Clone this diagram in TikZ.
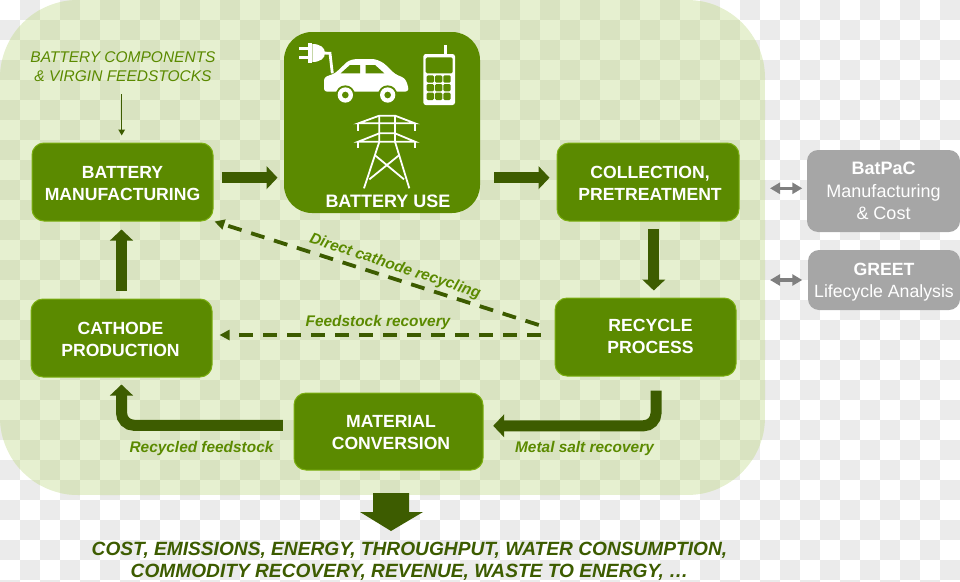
\documentclass[tikz,border=0pt]{standalone}
\usepackage{fontspec}
\setmainfont{Liberation Sans}
\usetikzlibrary{arrows.meta}
\definecolor{checkgray}{HTML}{EBEBEB}
\definecolor{panellight}{HTML}{E6F0D0}
\definecolor{paneldark}{HTML}{D9E3C1}
\definecolor{boxgreen}{HTML}{5B8A00}
\definecolor{boxedge}{HTML}{7CAF12}
\definecolor{arrowgreen}{HTML}{3D5C00}
\definecolor{labelgreen}{HTML}{5B8A00}
\definecolor{boxgray}{HTML}{A6A6A6}
\definecolor{arrowgray}{HTML}{7F7F7F}
\newcommand{\checkerrows}[1]{%
  \foreach \rowy in {10,50,...,570} \draw[#1,line width=20pt,dash pattern=on 20pt off 20pt,dash phase=20pt] (0,\rowy)--(960,\rowy);
  \foreach \rowy in {30,70,...,590} \draw[#1,line width=20pt,dash pattern=on 20pt off 20pt] (0,\rowy)--(960,\rowy);
}
% invisible struts that nudge a centred block of text: taller first line moves it down, deeper last line moves it up
\newcommand{\tallstrut}[1]{\rule{0pt}{#1pt}}
\newcommand{\deepstrut}[1]{\rule[-#1pt]{0pt}{#1pt}}
\tikzset{
  greenbox/.style={draw=boxedge,line width=1pt,fill=boxgreen,rounded corners=12pt,inner sep=0pt,text=white,align=center,
    font=\fontsize{17.6}{22}\selectfont\bfseries},
  graybox/.style={fill=boxgray,rounded corners=11pt,inner sep=0pt,text=white,align=center,
    font=\fontsize{18}{22.5}\selectfont},
  blockarrow/.style={draw=arrowgreen,line width=11pt,-{Triangle[length=11pt,width=22.5pt]}},
  dasharrow/.style={draw=arrowgreen,line width=3.8pt,dash pattern=on 14pt off 10pt,-{Triangle[length=10pt,width=10pt]}},
  thinarrow/.style={draw=arrowgreen,line width=1.4pt,-{Triangle[length=6pt,width=6.5pt]}},
  grayarrow/.style={draw=arrowgray,line width=3.2pt,{Triangle[length=10pt,width=11pt]}-{Triangle[length=10pt,width=11pt]}},
  steplabel/.style={text=labelgreen,inner sep=0pt,font=\fontsize{15.4}{18}\selectfont\bfseries\itshape},
  iconline/.style={draw=white,line width=1.8pt},
}
\begin{document}
\begin{tikzpicture}[x=1pt,y=-1pt]
\useasboundingbox (0,0) rectangle (960,581);
\checkerrows{checkgray}
\begin{scope}
  \clip[rounded corners=78pt] (0,0) rectangle (765,495);
  \fill[panellight] (0,0) rectangle (765,495);
  \checkerrows{paneldark}
\end{scope}

% boxes
\node[greenbox,minimum width=181pt,minimum height=78pt] (bm) at (122.5,182) {\tallstrut{15}BATTERY\\MANUFACTURING};
\node[fill=boxgreen,rounded corners=28pt,inner sep=0pt,minimum width=196pt,minimum height=181pt] (use) at (382,122.5) {};
\node[text=white,inner sep=0pt,font=\fontsize{18}{22}\selectfont\bfseries] (uselabel) at (388,201.5) {BATTERY USE};
\node[greenbox,minimum width=182pt,minimum height=78pt] (coll) at (648,182) {\hspace*{4pt}\tallstrut{15}COLLECTION,\\\hspace*{4pt}PRETREATMENT};
\node[greenbox,minimum width=181pt,minimum height=78pt] (rec) at (645.5,337) {\hspace*{10pt}RECYCLE\\\hspace*{10pt}PROCESS\deepstrut{2}};
\node[greenbox,minimum width=181pt,minimum height=78pt] (cath) at (121.5,338) {\tallstrut{15}CATHODE\kern2pt\\PRODUCTION\kern2pt};
\node[greenbox,minimum width=189pt,minimum height=77pt] (mat) at (388.5,431.5) {\hspace*{5pt}\tallstrut{14.5}MATERIAL\\\hspace*{5pt}CONVERSION};
\node[graybox,minimum width=153pt,minimum height=82pt] (batpac) at (883.5,191) {\textbf{BatPaC}\\Manufacturing\\\&\ Cost};
\node[graybox,minimum width=152pt,minimum height=60pt,font=\fontsize{17.7}{22}\selectfont] (greet) at (884,280) {\tallstrut{17}\textbf{GREET}\\Lifecycle Analysis};

% labels
\node[text=labelgreen,align=center,inner sep=0pt,font=\fontsize{15.5}{18.5}\selectfont\itshape] (feed) at (123,66.5) {BATTERY COMPONENTS\\\&\ VIRGIN FEEDSTOCKS};
\node[steplabel,rotate=-18.2] (direct) at (395,266.5) {Direct cathode recycling};
\node[steplabel] (fs) at (378,323) {Feedstock recovery};
\node[steplabel] (rf) at (201.5,448.5) {Recycled feedstock};
\node[steplabel] (ms) at (584.5,448.5) {Metal salt recovery};
\node[text=arrowgreen,align=center,inner sep=0pt,font=\fontsize{19.15}{22}\selectfont\bfseries\itshape] (out) at (409.5,561) {COST, EMISSIONS, ENERGY, THROUGHPUT, WATER CONSUMPTION,\\COMMODITY RECOVERY, REVENUE, WASTE TO ENERGY, \ldots};

% connectors
\coordinate (feedstart) at (121.7,94);
\coordinate (feedend) at (121.7,135.5);
\draw[thinarrow] (feedstart) -- (feedend);
\draw[blockarrow] ([xshift=8.3pt]bm.east |- 0,177.7) -- ([xshift=-6.3pt]use.west |- 0,177.7);
\draw[blockarrow] ([xshift=14pt]use.east |- 0,177.7) -- ([xshift=-7pt]coll.west |- 0,177.7);
\draw[blockarrow] ([yshift=-7.3pt]653.8,0 |- coll.south) -- ([yshift=7pt]653.8,0 |- rec.north);
\draw[blockarrow,rounded corners=12.5pt] ([yshift=-14pt]656,0 |- rec.south) |- ([xshift=9.7pt]mat.east |- 0,425.8);
\draw[blockarrow,rounded corners=12.5pt] ([xshift=-10.7pt]mat.west |- 0,425.3) -| ([yshift=-7pt]cath.south);
\draw[blockarrow] ([yshift=8pt]cath.north) -- ([yshift=-8pt]cath.north |- bm.south);
\draw[dasharrow] ([xshift=-15.7pt]rec.west |- 0,325) -- ([xshift=1pt]bm.south east);
\draw[dasharrow] ([xshift=-14pt]rec.west |- 0,335) -- ([xshift=7pt]cath.east |- 0,335);
\draw[grayarrow] (770,188.3) -- ([xshift=-4.5pt]batpac.west |- 0,188.3);
\draw[grayarrow] (770,280) -- ([xshift=-5.5pt]greet.west |- 0,280);
\fill[arrowgreen] (373,493) -- (409,493) -- (409,512) -- (423,512) -- (391,531) -- (360,512) -- (373,512) -- cycle;

% icons in zoom coordinates
\begin{scope}[shift={(280,20)},x=0.33333pt,y=-0.33333pt]
  % plug
  \fill[white] (57,82) rectangle (90,90);
  \fill[white] (57,108) rectangle (90,116);
  \fill[white] (85,68) rectangle (97,130);
  \fill[white] (97,72) .. controls (122,72) and (135,84) .. (135,99) .. controls (135,114) and (122,126) .. (97,126) -- cycle;
  \draw[white,line width=2.8pt] (130,99) -- (150,100) -- (157,160);
  % car
  \fill[white,rounded corners=3pt] (132,215) -- (132,172) -- (165,160) -- (205,122) -- (225,117) -- (285,117) -- (310,128) -- (345,162) -- (375,175) -- (385,200) -- (385,215) -- cycle;
  \fill[boxgreen] (182,160) -- (210,135) -- (240,135) -- (240,160) -- cycle;
  \fill[boxgreen] (257,135) -- (285,135) -- (313,160) -- (257,160) -- cycle;
  \foreach \wx in {196,323} {
    \fill[boxgreen] (\wx,225) circle (29);
    \fill[white] (\wx,225) circle (23);
    \fill[boxgreen] (\wx,225) circle (10);
  }
  % phone
  \fill[white] (493,75) rectangle (502,104);
  \fill[white,rounded corners=2.5pt] (430,102) rectangle (525,255);
  \fill[boxgreen,rounded corners=1.5pt] (437,112) rectangle (518,160);
  \foreach \kx in {440,465,490} \foreach \ky in {166,192,218}
    \fill[boxgreen,rounded corners=1.3pt] (\kx,\ky) rectangle +(22,22);
  % tower
  \draw[iconline] (235,310) -- (298,287) -- (345,287) -- (405,310) -- cycle;
  \draw[iconline] (235,365) -- (298,340) -- (345,340) -- (405,365) -- cycle;
  \draw[iconline] (235,310) -- (235,332);
  \draw[iconline] (405,310) -- (405,332);
  \draw[iconline] (235,365) -- (235,385);
  \draw[iconline] (405,365) -- (405,385);
  \draw[iconline] (298,287) -- (298,365) -- (252,505);
  \draw[iconline] (345,287) -- (345,365) -- (388,505);
  \draw[iconline] (284,405) -- (372,478);
  \draw[iconline] (358,405) -- (268,478);
\end{scope}
\end{tikzpicture}
\end{document}
